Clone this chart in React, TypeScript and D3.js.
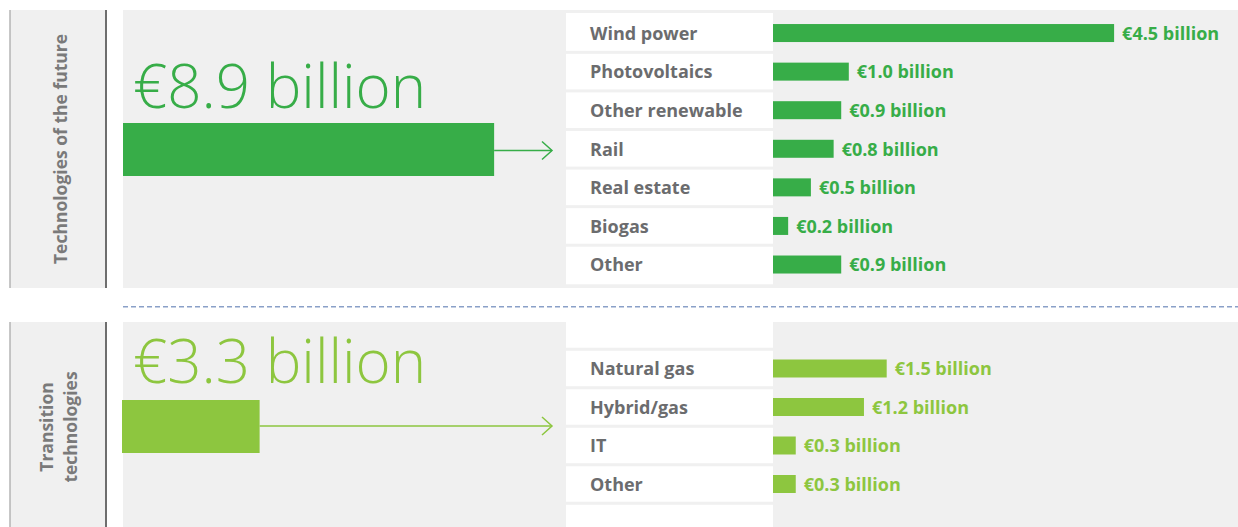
import React from "react";
import * as d3 from "d3";

const futureCategories = ["Wind power", "Photovoltaics", "Other renewable", "Rail", "Real estate", "Biogas", "Other"];
const futureValues = [4.5, 1.0, 0.9, 0.8, 0.5, 0.2, 0.9];
const futureLabels = ["€4.5 billion", "€1.0 billion", "€0.9 billion", "€0.8 billion", "€0.5 billion", "€0.2 billion", "€0.9 billion"];

const transitionCategories = ["Natural gas", "Hybrid/gas", "IT", "Other"];
const transitionValues = [1.5, 1.2, 0.3, 0.3];
const transitionLabels = ["€1.5 billion", "€1.2 billion", "€0.3 billion", "€0.3 billion"];

const groupNames = ["Technologies of the future", "Transition technologies"];
const groupTotals = [8.9, 3.3];
const groupTotalLabels = ["€8.9 billion", "€3.3 billion"];

const W = 1238;
const H = 527;
const FONT = "'Open Sans', 'Noto Sans', sans-serif";
const DARK = "#37ad48";
const LIGHT = "#8dc63f";
const GRAY_BG = "#f0f0f0";
const LABEL = "#6b6c6e";

const xSmall = d3.scaleLinear().domain([0, 1]).range([0, 75.8]);
const xBig = d3.scaleLinear().domain([0, 1]).range([0, 41.7]);

const colX0 = 566;
const colX1 = 773;

const yTop = d3.scaleBand<string>().domain(futureCategories).range([13.75, 13.75 + 7 * 38.58]).padding(0);
const bottomDomain = ["_top", ...transitionCategories, "_bottom"];
const yBot = d3.scaleBand<string>().domain(bottomDomain).range([310.75, 310.75 + 6 * 38.5]).padding(0);

function Rows({ cats, vals, labels, y, color, colTop, colBottom, domain }: any) {
  const barH = 18;
  return (
    <g>
      <rect x={colX0} y={colTop} width={colX1 - colX0} height={colBottom - colTop} fill="#fff" />
      {domain.slice(1).map((d: string) => (
        <rect key={"sep" + d} x={colX0} y={(y(d) as number) - 1.5} width={colX1 - colX0} height={3} fill={GRAY_BG} />
      ))}
      {cats.map((c: string, i: number) => {
        const cy = (y(c) as number) + y.bandwidth() / 2;
        const w = xSmall(vals[i]);
        return (
          <g key={c}>
            <text x={590} y={cy} dy="0.38em" fontFamily={FONT} fontWeight={700} fontSize={18} fill={LABEL}>{c}</text>
            <rect x={colX1} y={cy - barH / 2} width={w} height={barH} fill={color} />
            <text x={colX1 + w + 8} y={cy} dy="0.38em" fontFamily={FONT} fontWeight={700} fontSize={18} fill={color}>{labels[i]}</text>
          </g>
        );
      })}
    </g>
  );
}

function Arrow({ x0, x1, y, color }: any) {
  return (
    <g stroke={color} strokeWidth={1.5} fill="none">
      <line x1={x0} x2={x1} y1={y} y2={y} />
      <polyline points={`${x1 - 10},${y - 9} ${x1},${y} ${x1 - 10},${y + 9}`} />
    </g>
  );
}

function SideBox({ y0, y1 }: any) {
  return (
    <g>
      <rect x={10} y={y0} width={96} height={y1 - y0} fill={GRAY_BG} />
      <line x1={10} x2={10} y1={y0} y2={y1} stroke="#b4b4b4" strokeWidth={1.5} />
      <line x1={106} x2={106} y1={y0} y2={y1} stroke="#6e6e6e" strokeWidth={2} />
    </g>
  );
}

export default function App() {
  const bigBarTop = { y: 123, h: 53 };
  const bigBarBot = { y: 400, h: 53 };
  return (
    <div style={{ position: "absolute", left: 0, top: 0 }}>
      <svg width={W} height={H} style={{ display: "block" }}>
        <rect x={0} y={0} width={W} height={H} fill="#fff" />
        {/* Top panel */}
        <SideBox y0={10} y1={288} />
        <rect x={123} y={10} width={W - 123} height={278} fill={GRAY_BG} />
        <text transform="translate(66.5,149) rotate(-90)" textAnchor="middle" fontFamily={FONT} fontWeight={700} fontSize={17.5} fill="#7a7a7a">{groupNames[0]}</text>
        <text x={133} y={108} fontFamily={FONT} fontWeight={300} fontSize={60} fill={DARK}>{groupTotalLabels[0]}</text>
        <rect x={123} y={bigBarTop.y} width={xBig(groupTotals[0])} height={bigBarTop.h} fill={DARK} />
        <Arrow x0={123 + xBig(groupTotals[0])} x1={552} y={150.5} color={DARK} />
        <Rows cats={futureCategories} vals={futureValues} labels={futureLabels} y={yTop} color={DARK} colTop={13} colBottom={284.3} domain={futureCategories} />

        {/* Divider */}
        <line x1={123} x2={W} y1={306.7} y2={306.7} stroke="#8aa0c8" strokeWidth={1.5} strokeDasharray="5 3" />

        {/* Bottom panel */}
        <SideBox y0={322} y1={H} />
        <rect x={123} y={322} width={W - 123} height={H - 322} fill={GRAY_BG} />
        <text transform="translate(52.5,427) rotate(-90)" textAnchor="middle" fontFamily={FONT} fontWeight={700} fontSize={17.5} fill="#7a7a7a">Transition</text>
        <text transform="translate(76.5,427) rotate(-90)" textAnchor="middle" fontFamily={FONT} fontWeight={700} fontSize={17.5} fill="#7a7a7a">technologies</text>
        <text x={133} y={383} fontFamily={FONT} fontWeight={300} fontSize={60} fill={LIGHT}>{groupTotalLabels[1]}</text>
        <rect x={122} y={bigBarBot.y} width={xBig(groupTotals[1])} height={bigBarBot.h} fill={LIGHT} />
        <Arrow x0={122 + xBig(groupTotals[1])} x1={552} y={426} color={LIGHT} />
        <Rows cats={transitionCategories} vals={transitionValues} labels={transitionLabels} y={yBot} color={LIGHT} colTop={322} colBottom={H} domain={bottomDomain} />
      </svg>
    </div>
  );
}
